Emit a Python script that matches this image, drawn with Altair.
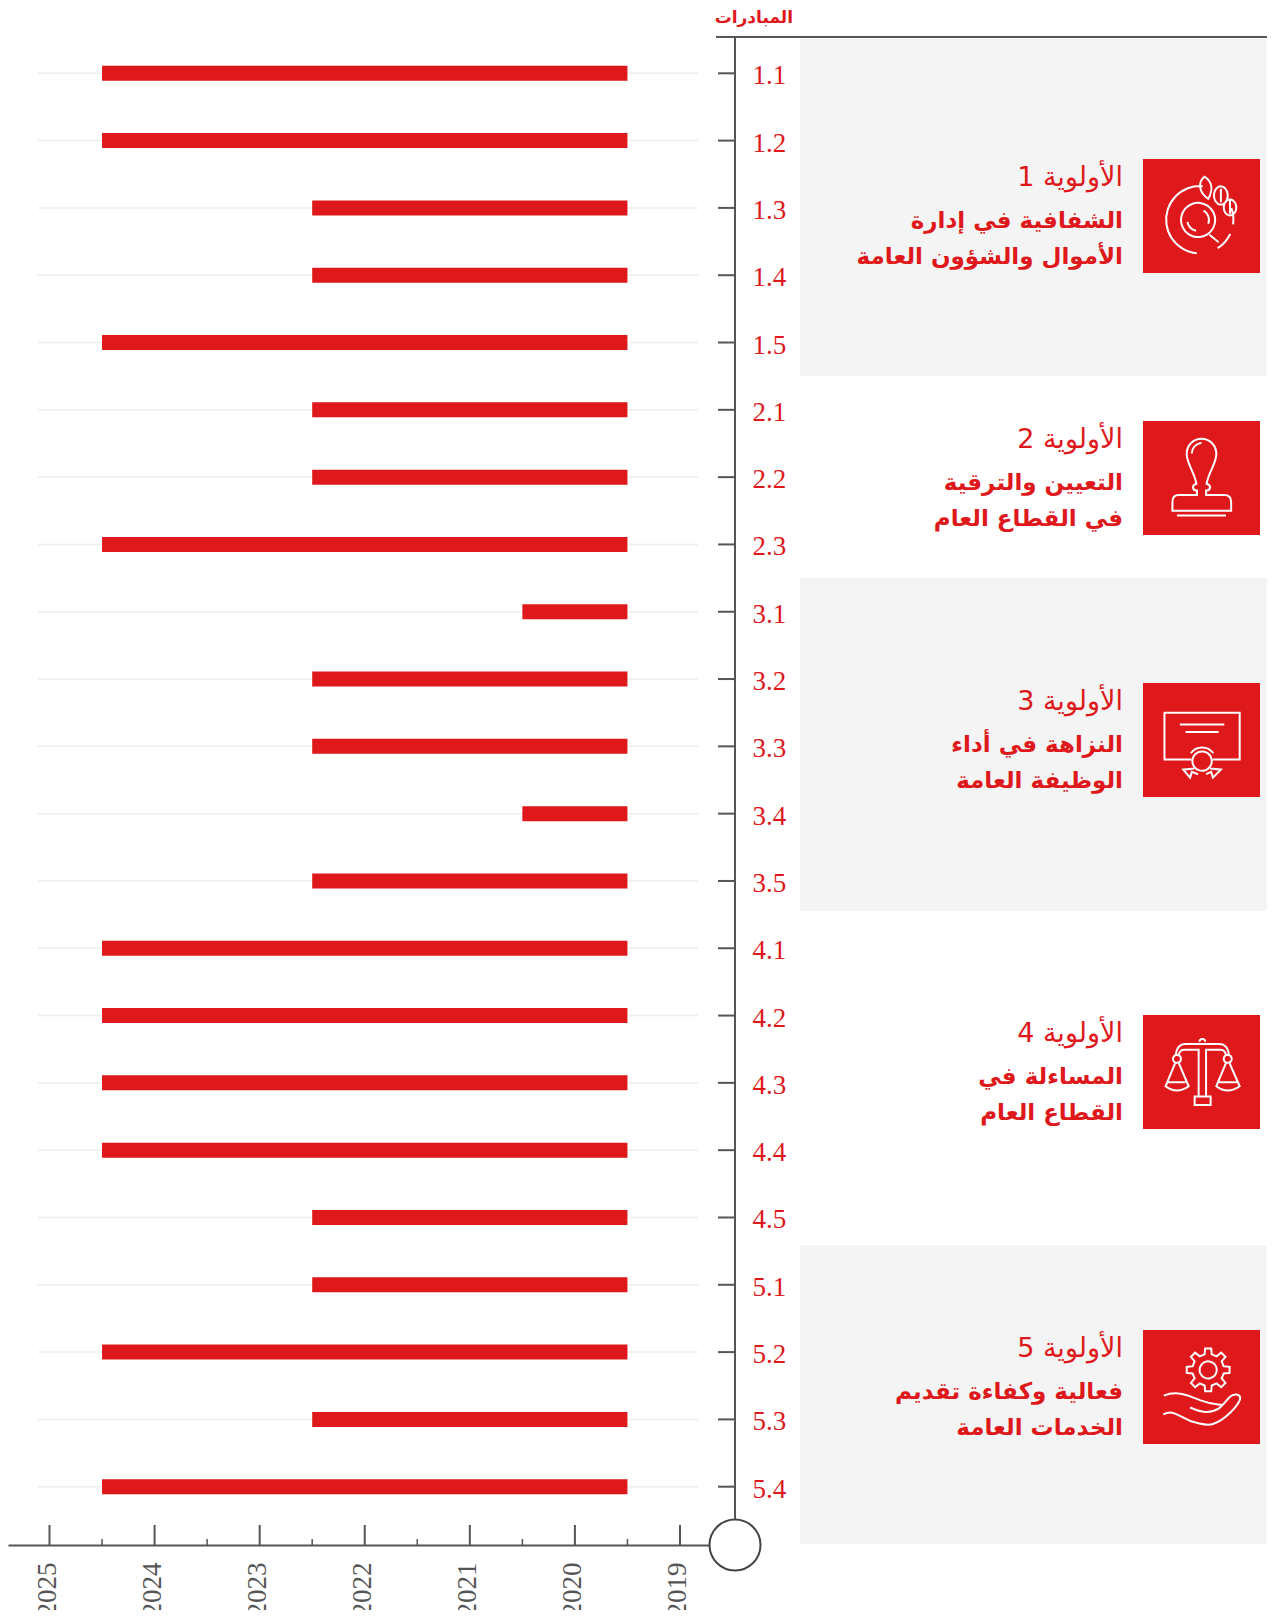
import math
import altair as alt
import pandas as pd

rows = ["1.1","1.2","1.3","1.4","1.5","2.1","2.2","2.3","3.1","3.2","3.3","3.4","3.5",
        "4.1","4.2","4.3","4.4","4.5","5.1","5.2","5.3","5.4"]
starts = [2024.5,2024.5,2022.5,2022.5,2024.5,2022.5,2022.5,2024.5,2020.5,2022.5,2022.5,2020.5,2022.5,
          2024.5,2024.5,2024.5,2024.5,2022.5,2022.5,2024.5,2022.5,2024.5]
ends = [2019.5]*22
major_years = [2025,2024,2023,2022,2021,2020,2019]
minor_years = [2024.5,2023.5,2022.5,2021.5,2020.5,2019.5]
header = "المبادرات"
titles = ["الأولوية 1","الأولوية 2","الأولوية 3","الأولوية 4","الأولوية 5"]
line1 = ["الشفافية في إدارة","التعيين والترقية","النزاهة في أداء","المساءلة في","فعالية وكفاءة تقديم"]
line2 = ["الأموال والشؤون العامة","في القطاع العام","الوظيفة العامة","القطاع العام","الخدمات العامة"]
icon_tops = [159,421,683,1015,1330]
panels = [(39,376),(578,911),(1245,1544)]

RED="#DE181B"; GREY="#555555"; PANEL="#F4F4F4"; GRID="#EEEEEE"
OX,OY=8,37
W,H=727,1508
def X(p): return p-OX
def Y(p): return p-OY

def arc(cx,cy,r,a0,a1,ry=None,move=True):
    ry = r if ry is None else ry
    n=max(1,int(abs(a1-a0)/30)+1)
    s=""
    for i in range(n):
        t0=math.radians(a0+(a1-a0)*i/n); t1=math.radians(a0+(a1-a0)*(i+1)/n)
        k=4/3*math.tan((t1-t0)/4)
        x0,y0=cx+r*math.cos(t0),cy+ry*math.sin(t0)
        x1,y1=cx+r*math.cos(t1),cy+ry*math.sin(t1)
        if i==0 and move: s+=f"M{x0:.3f} {y0:.3f}"
        s+=(f"C{x0-k*r*math.sin(t0):.3f} {y0+k*ry*math.cos(t0):.3f} "
            f"{x1+k*r*math.sin(t1):.3f} {y1-k*ry*math.cos(t1):.3f} {x1:.3f} {y1:.3f}")
    return s
def circ(cx,cy,r,ry=None): return arc(cx,cy,r,0,360,ry)+"Z"
def gear(cx,cy,ro,ri,n=8):
    s=""
    for i in range(n):
        a=360/n*i
        pts=[(ri,a-13),(ro,a-8),(ro,a+8),(ri,a+13)]
        for j,(r,d) in enumerate(pts):
            x,y=cx+r*math.cos(math.radians(d)),cy+r*math.sin(math.radians(d))
            s+=("M" if i==0 and j==0 else "L")+f"{x:.3f} {y:.3f}"
    return s+"Z"

icon_cup=(arc(-.03,.065,.59,-88,240+0)[0:0]+arc(-.03,.065,.59,-85,-265+0)+arc(-.03,.065,.59,98,62,move=False)[0:0]
          +arc(-.03,.065,.59,58,25)+arc(-.03,.065,.59,8,-20)+circ(-.06,.07,.3)+arc(-.06,.07,.19,-60,20)+arc(-.06,.07,.19,100,170)
          +"M.14 .33L.3 .46"
          +"M.05 -.69C-.06 -.6 -.06 -.42 .12 -.3C.2 -.45 .2 -.6 .05 -.69Z"
          +circ(.34,-.36,.12,.16)+circ(.5,-.15,.11,.14)+"M.34 -.48L.34 -.24M.5 -.27L.5 -.04")
icon_stamp=("M-.08 .3L-.08 .22C-.16 .22 -.18 .13 -.09 .1C-.12 -.1 -.26 -.25 -.26 -.42C-.26 -.58 -.14 -.69 0 -.69"
            "C.14 -.69 .26 -.58 .26 -.42C.26 -.25 .12 -.1 .09 .1C.18 .13 .16 .22 .08 .22L.08 .3L.4 .3Q.52 .3 .52 .42"
            "L.52 .575L-.51 .575L-.51 .42Q-.51 .3 -.4 .3Z"
            "M-.43 .66L.43 .66M-.17 -.43C-.17 -.53 -.1 -.6 0 -.62")
icon_cert=("M-.18 .34L-.65 .34L-.65 -.48L.67 -.48L.67 .34L.2 .34M-.38 -.27L.4 -.27M-.28 -.14L.3 -.14"
           +circ(.01,.37,.17)+arc(.01,.37,.24,-145,-35)
           +"M-.13 .5L-.32 .52L-.2 .66L-.17 .56L-.06 .6M.15 .5L.34 .52L.2 .66L.17 .56L.08 .6")
icon_scale=("M-.05 .43L-.05 -.39L-.3 -.39Q-.38 -.39 -.4 -.3M.08 .43L.08 -.39L.33 -.39Q.41 -.39 .43 -.3"
            "M-.45 -.3Q-.43 -.49 -.28 -.49L.31 -.49Q.46 -.49 .48 -.3"
            "M-.12 .43L.16 .43L.16 .58L-.12 .58Z"
            +arc(.015,-.53,.05,180,360)
            +circ(-.43,-.23,.07)+circ(.46,-.23,.07)
            +"M-.46 -.16L-.63 .25Q-.43 .4 -.225 .25L-.4 -.16M-.58 .18L-.28 .18"
            "M.43 -.16L.26 .25Q.46 .4 .67 .25L.49 -.16M.31 .18L.62 .18")
icon_gear=(gear(.117,-.30,.38,.28)+circ(.117,-.30,.15)
           +"M-.66 .15C-.42 .05 -.2 .16 -.03 .23C.1 .28 .2 .3 .32 .31"
            "M-.67 .48C-.55 .42 -.48 .45 -.37 .51C-.15 .64 .1 .68 .2 .65C.42 .58 .65 .32 .68 .2C.68 .13 .58 .1 .5 .17C.42 .25 .38 .32 .3 .38"
            "M-.2 .36C0 .45 .15 .47 .3 .38C.36 .34 .36 .3 .32 .31")
icons=[icon_cup,icon_stamp,icon_cert,icon_scale,icon_gear]

df=pd.DataFrame({"row":rows,"start":starts,"end":ends})
one=alt.Data(values=[{"k":0}])

xscale=alt.Scale(domain=[2025+41.5/105.08,2025-(W-41.5)/105.08],nice=False,zero=False)
yscale=alt.Scale(type="point",domain=rows,range=[73.3-OY,1486.7-OY],padding=0)
xaxis=alt.Axis(values=major_years,format="d",title=None,labelAngle=-90,labelAlign="right",labelBaseline="middle",
               ticks=False,grid=False,domain=True,domainColor=GREY,domainWidth=2,labelPadding=17,labelFont="Liberation Serif",
               labelFontSize=27,labelColor=GREY,labelOverlap=False,labelOffset=-2.5)
yaxis=alt.Axis(orient="right",title=None,ticks=False,grid=False,domain=False,labelPadding=17,labelFont="Liberation Serif",
               labelFontSize=27,labelColor=RED,labelOverlap=False,labelOffset=2.5,labelAlign="left",labelBaseline="middle",offset=0)
xenc=alt.X("year:Q",scale=xscale,axis=xaxis)
yenc=alt.Y("row:O",scale=yscale,axis=yaxis)

layers=[]
for top,bot in panels:
    layers.append(alt.Chart(one).mark_rect(color=PANEL,clip=False).encode(
        x=alt.value(X(800)),x2=alt.value(X(1275)),y=alt.value(Y(top)),y2=alt.value(Y(bot))))

layers.append(alt.Chart(df).mark_rule(color=GRID,strokeWidth=1.5).encode(
    x=alt.value(X(38)),x2=alt.value(X(698)),y=yenc))
layers.append(alt.Chart(df).mark_rule(color=GREY,strokeWidth=2).encode(
    x=alt.value(X(718)),x2=alt.value(X(735)),y=yenc))
layers.append(alt.Chart(df).mark_bar(color=RED,size=15).encode(
    x=alt.X("start:Q",scale=xscale,axis=xaxis),x2="end:Q",y=yenc))
layers.append(alt.Chart(pd.DataFrame({"year":major_years})).mark_rule(color=GREY,strokeWidth=2).encode(
    x=xenc,y=alt.value(Y(1525)),y2=alt.value(Y(1545))))
layers.append(alt.Chart(pd.DataFrame({"year":minor_years})).mark_rule(color=GREY,strokeWidth=1.5).encode(
    x=xenc,y=alt.value(Y(1539)),y2=alt.value(Y(1545))))
# axes frame
layers.append(alt.Chart(one).mark_rule(color=GREY,strokeWidth=2).encode(
    x=alt.value(X(735)),y=alt.value(Y(37)),y2=alt.value(Y(1545))))
layers.append(alt.Chart(one).mark_rule(color=GREY,strokeWidth=2).encode(
    x=alt.value(X(716)),x2=alt.value(X(1275)),y=alt.value(Y(37))))
layers.append(alt.Chart(one).mark_point(shape="circle",size=2601,filled=True,fill="white",stroke="#444444",strokeWidth=2,opacity=1).encode(
    x=alt.value(X(735)),y=alt.value(Y(1545))))
layers.append(alt.Chart(one).mark_text(align="right",baseline="alphabetic",font="DejaVu Sans",fontWeight="bold",fontSize=17,color=RED).encode(
    x=alt.value(X(793)),y=alt.value(Y(23)),text=alt.value(header)))

for i,top in enumerate(icon_tops):
    layers.append(alt.Chart(one).mark_rect(color=RED).encode(
        x=alt.value(X(1143)),x2=alt.value(X(1260)),y=alt.value(Y(top)),y2=alt.value(Y(top+114))))
    layers.append(alt.Chart(one).mark_point(shape=icons[i],size=114*114,filled=False,stroke="white",strokeWidth=2,opacity=1).encode(
        x=alt.value(X(1201.5)),y=alt.value(Y(top+57))))
    layers.append(alt.Chart(one).mark_text(align="right",baseline="alphabetic",font="DejaVu Sans",fontSize=27,color=RED).encode(
        x=alt.value(X(1123)),y=alt.value(Y(top+27)),text=alt.value(titles[i])))
    layers.append(alt.Chart(one).mark_text(align="right",baseline="alphabetic",font="DejaVu Sans",fontWeight="bold",fontSize=23,color=RED).encode(
        x=alt.value(X(1123)),y=alt.value(Y(top+69)),text=alt.value(line1[i])))
    layers.append(alt.Chart(one).mark_text(align="right",baseline="alphabetic",font="DejaVu Sans",fontWeight="bold",fontSize=23,color=RED).encode(
        x=alt.value(X(1123)),y=alt.value(Y(top+105)),text=alt.value(line2[i])))

chart=alt.layer(*layers).properties(width=W,height=H,
    padding={"left":0,"top":OY-8,"right":1275-735-8,"bottom":65},
    autosize=alt.AutoSizeParams(type="none")
).configure_view(stroke=None)
chart.save("out.html",embed_options={"renderer":"svg","actions":False})
